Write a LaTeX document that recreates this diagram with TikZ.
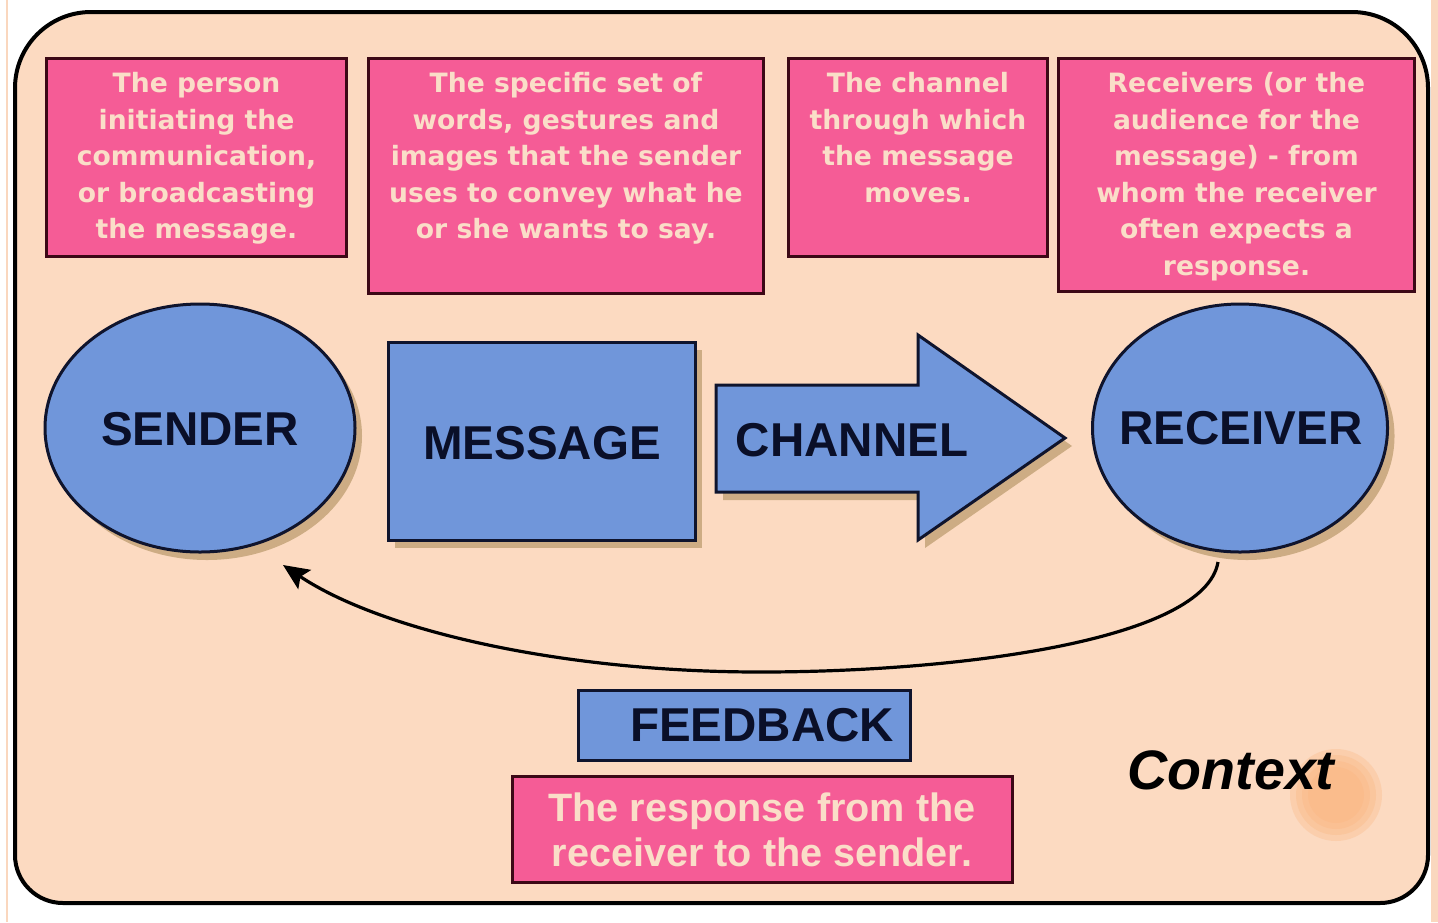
\documentclass[tikz,border=0pt]{standalone}
\usepackage{fontspec}
\setmainfont{Liberation Sans}
\newfontfamily\boxfont{DejaVu Sans}
\usetikzlibrary{shapes.geometric,arrows.meta,shadows}

\definecolor{peach}{RGB}{252,218,193}
\definecolor{pinkfill}{RGB}{245,92,150}
\definecolor{pinkline}{RGB}{60,8,22}
\definecolor{cream}{RGB}{250,222,200}
\definecolor{bluef}{RGB}{112,150,218}
\definecolor{bluel}{RGB}{15,20,45}
\definecolor{navy}{RGB}{10,15,40}
\definecolor{shadowc}{RGB}{205,172,132}
\definecolor{blobc}{RGB}{250,180,125}
\definecolor{stripc}{RGB}{250,215,190}

\begin{document}
\begin{tikzpicture}[x=0.5pt,y=-0.5pt,
  pinkbox/.style={draw=pinkline, line width=1.5pt, fill=pinkfill, inner sep=0pt, anchor=north west},
  pinktxt/.style={text=cream, font=\boxfont\bfseries\fontsize{13.3}{18.25}\selectfont, align=center, inner sep=0pt, anchor=north},
  blueshape/.style={draw=bluel, line width=1.5pt, fill=bluef, inner sep=0pt},
  shadowed/.style={drop shadow={shadow xshift=3.5pt, shadow yshift=-4pt, fill=shadowc, opacity=1}},
  biglabel/.style={text=navy, font=\bfseries\fontsize{23.75}{28}\selectfont, inner sep=0pt},
  fbarrow/.style={draw=black, line width=1.6pt, -{Stealth[length=13pt,width=11.5pt,inset=2.5pt]}}
]
\useasboundingbox (0,0) rectangle (1438,922);
\fill[white] (0,0) rectangle (1438,922);
% slide decorations
\fill[stripc] (1431,0) rectangle (1438,922);
\draw[stripc, line width=1pt] (7,0) -- (7,922);

% outer frame
\draw[line width=2pt, fill=peach] (15,480) [rounded corners=38pt] -- (15,12) -- (1428,12) [rounded corners=24pt] -- (1428,903) -- (15,903) -- cycle;

% context blob
\foreach \r in {28,34,40,46}
  \fill[blobc, opacity=0.3] (1336,795) circle (\r);

% top description boxes
\node[pinkbox, minimum width=150pt, minimum height=99pt] (b1) at (45,57) {};
\node[pinkbox, minimum width=197.5pt, minimum height=117.5pt] (b2) at (367,57) {};
\node[pinkbox, minimum width=129.5pt, minimum height=99pt] (b3) at (787,57) {};
\node[pinkbox, minimum width=178pt, minimum height=116.5pt] (b4) at (1057,57) {};

\node[pinktxt] (t1) at ([yshift=-7.5pt]b1.north) {The person\\initiating the\\communication,\\or broadcasting\\the message.};
\node[pinktxt] (t2) at ([yshift=-7.5pt]b2.north) {The specific set of\\words, gestures and\\images that the sender\\uses to convey what he\\or she wants to say.};
\node[pinktxt] (t3) at ([yshift=-7.5pt]b3.north) {The channel\\through which\\the message\\moves.};
\node[pinktxt] (t4) at ([yshift=-7.5pt]b4.north) {Receivers (or the\\audience for the\\message) - from\\whom the receiver\\often expects a\\response.};

% main row
\node[blueshape, shadowed, ellipse, minimum width=155pt, minimum height=124pt] (sender) at (200,428) {};
\node[biglabel] (sendertxt) at (200,429) {SENDER};

\node[blueshape, shadowed, minimum width=153.5pt, minimum height=99pt] (message) at (541.5,441) {};
\node[biglabel] (messagetxt) at (542,443) {MESSAGE};

\fill[shadowc, shift={(7,8)}] (716,385) -- (918,385) -- (918,335) -- (1065,438) -- (918,540) -- (918,492) -- (716,492) -- cycle;
\draw[blueshape] (716,385) -- (918,385) -- (918,335) -- (1065,438) -- (918,540) -- (918,492) -- (716,492) -- cycle;
\node[biglabel] (channeltxt) at (852,440) {CHANNEL};

\node[blueshape, shadowed, ellipse, minimum width=147.5pt, minimum height=124pt] (receiver) at (1240,428) {};
\node[biglabel] (receivertxt) at (1241,428) {RECEIVER};

% feedback loop
\coordinate (fbstart) at (1218,562);
\coordinate (fbmid) at (760,672);
\coordinate (fbend) at (283,565);
\draw[fbarrow] (fbstart) .. controls (1205,640) and (960,672) .. (fbmid) .. controls (560,672) and (380,630) .. (fbend);

\node[blueshape, minimum width=166pt, minimum height=35pt] (feedback) at (744,725) {};
\node[biglabel] (feedbacktxt) at (762,725) {FEEDBACK};

\node[pinkbox, anchor=center, minimum width=250pt, minimum height=53pt] (resp) at (762,829) {};
\node[text=cream, font=\bfseries\fontsize{19.8}{22.5}\selectfont, align=center, inner sep=0pt] (resptxt) at (762,830) {The response from the\\receiver to the sender.};

\node[text=black, font=\bfseries\itshape\fontsize{27.8}{32}\selectfont, inner sep=0pt] (context) at (1231,770) {Context};
\end{tikzpicture}
\end{document}
